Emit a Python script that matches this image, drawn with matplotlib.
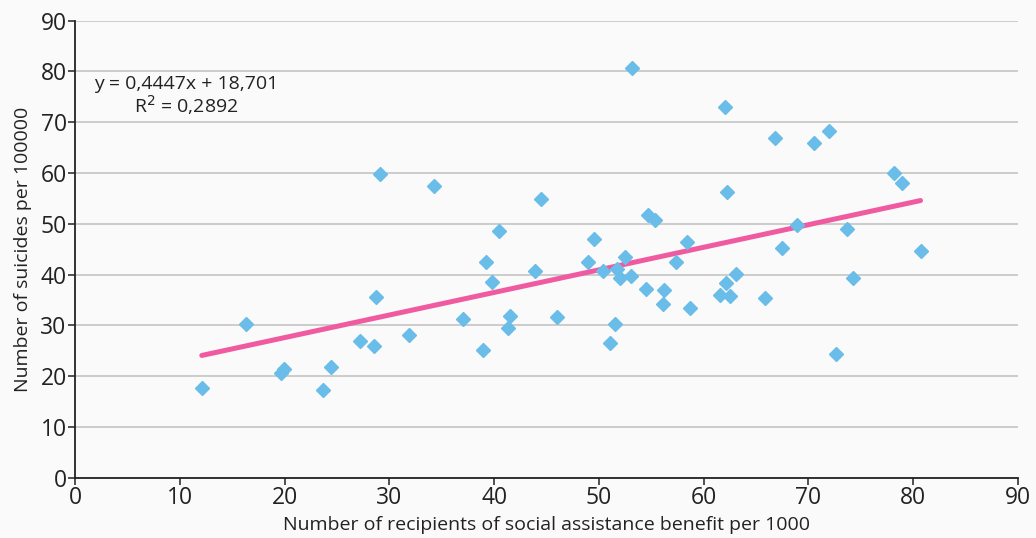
import numpy as np
import matplotlib
import matplotlib.pyplot as plt
matplotlib.rcParams.update({'font.family': ['Open Sans', 'DejaVu Sans']})

# recipients of social assistance benefit per 1000
x = [12.1, 16.3, 19.7, 19.9, 23.7, 24.4, 27.2, 28.5, 28.7, 29.1,
     31.9, 34.3, 37.0, 38.9, 39.2, 39.8, 40.5, 41.3, 41.5, 43.9,
     44.5, 46.0, 49.0, 49.5, 50.4, 51.1, 51.5, 51.7, 52.0, 52.5,
     53.1, 53.2, 54.5, 54.7, 55.4, 56.1, 56.2, 57.4, 58.4, 58.7,
     61.6, 62.0, 62.1, 62.2, 62.5, 63.1, 65.9, 66.8, 67.5, 68.9,
     70.5, 72.0, 72.6, 73.7, 74.3, 78.2, 78.9, 80.7]
# suicides per 100000
y = [17.6, 30.2, 20.6, 21.5, 17.3, 21.9, 27.0, 25.9, 35.5, 59.8,
     28.1, 57.5, 31.2, 25.1, 42.5, 38.5, 48.6, 29.5, 31.8, 40.7,
     54.8, 31.6, 42.5, 47.0, 40.7, 26.5, 30.3, 41.1, 39.4, 43.5,
     39.8, 80.7, 37.1, 51.7, 50.7, 34.2, 36.9, 42.5, 46.4, 33.5,
     35.9, 73.1, 38.4, 56.2, 35.7, 40.2, 35.4, 67.0, 45.2, 49.7,
     65.9, 68.3, 24.4, 48.9, 39.4, 60.1, 58.0, 44.6]

slope = 0.4447
intercept = 18.701

fig = plt.figure(figsize=(10.36, 5.38), dpi=100, facecolor='#fafafa')
ax = fig.add_axes([0.0724, 0.112, 0.9102, 0.8495], facecolor='#fafafa')

ax.set_xlim(0, 90)
ax.set_ylim(0, 90)
ax.set_xticks(np.arange(0, 91, 10))
ax.set_yticks(np.arange(0, 91, 10))
ax.yaxis.grid(True, color='#c4c4c4', linewidth=1.2)
ax.set_axisbelow(True)
for s in ['top', 'right']:
    ax.spines[s].set_visible(False)
for s in ['left', 'bottom']:
    ax.spines[s].set_linewidth(1.3)
    ax.spines[s].set_color('#222222')
ax.tick_params(length=5, width=1.1, labelsize=16.5, colors='#222222', pad=1)

xs = np.array([min(x), max(x)])
ax.plot(xs, slope * xs + intercept, color='#ef5aa0', linewidth=3.6,
        solid_capstyle='round', zorder=2)
ax.plot(x, y, linestyle='none', marker='D', markersize=7.4,
        color='#6bbde9', zorder=3)

# regression equation, as printed in the chart
ax.text(10.6, 75.2, 'y = 0,4447x + 18,701\nR$^2$ = 0,2892',
        fontsize=14, ha='center', va='center', linespacing=1.0,
        color='#222222')

ax.set_xlabel('Number of recipients of social assistance benefit per 1000',
              fontsize=14, color='#222222', labelpad=4)
ax.set_ylabel('Number of suicides per 100000', fontsize=14, color='#222222',
              labelpad=6)

plt.savefig('out.png', dpi=100, facecolor='#fafafa')
